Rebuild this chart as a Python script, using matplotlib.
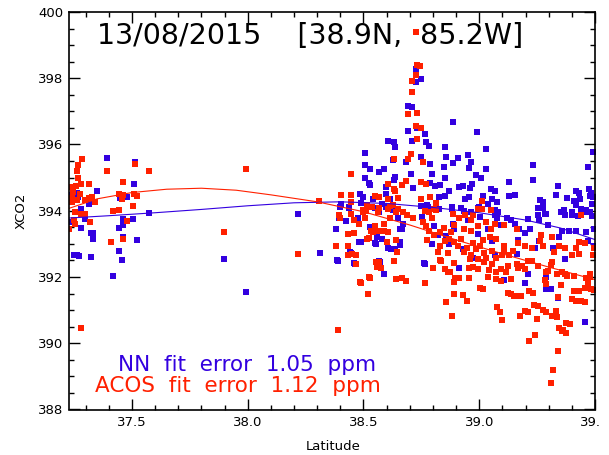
import matplotlib
matplotlib.use("Agg")
import matplotlib.pyplot as plt
from matplotlib.ticker import MultipleLocator, FormatStrFormatter
from matplotlib.transforms import Bbox, TransformedBbox, IdentityTransform

# Colores de las series
azul = "#3300E0"
rojo = "#FF2000"

# Puntos NN (azul)
blue_lat = [
    37.394, 37.515, 37.509, 37.348, 37.262, 37.240, 37.267, 37.316, 37.480, 37.449,
    37.279, 37.241, 37.296, 37.463, 37.506, 37.463, 37.443, 37.281, 37.322, 37.331,
    37.333, 37.463, 37.523, 37.446, 37.264, 37.270, 37.322, 37.457, 37.420, 37.575,
    37.898, 37.994, 37.235, 37.250, 38.219, 38.310, 38.727, 38.747, 38.727, 38.692,
    38.709, 38.887, 38.692, 38.730, 38.990, 38.765, 38.604, 38.631, 38.709, 38.768,
    38.637, 38.785, 38.850, 39.031, 38.505, 38.747, 38.858, 38.908, 38.952, 38.628,
    38.683, 38.788, 38.885, 38.966, 38.505, 38.526, 38.566, 38.587, 38.847, 38.955,
    39.031, 39.232, 39.471, 38.637, 38.631, 38.505, 38.704, 38.794, 38.850, 38.987,
    39.007, 39.130, 39.232, 38.528, 38.596, 38.715, 38.788, 38.809, 38.832, 38.870,
    38.914, 38.931, 38.958, 38.969, 39.051, 39.068, 39.340, 39.474, 39.490, 38.485,
    38.496, 38.543, 38.599, 38.613, 38.826, 38.850, 38.937, 38.955, 39.016, 39.054,
    39.130, 39.156, 39.261, 39.276, 39.331, 39.381, 39.433, 39.480, 38.403, 38.438,
    38.488, 38.578, 38.747, 38.776, 38.884, 38.934, 39.001, 39.039, 39.077, 39.416,
    39.439, 39.489, 39.463, 39.401, 39.252, 39.284, 39.372, 39.066, 39.493, 39.420,
    39.483, 39.437, 39.410, 38.380, 38.391, 38.394, 38.426, 38.447, 38.464, 38.476,
    38.488, 38.528, 38.552, 38.560, 38.569, 38.572, 38.590, 38.607, 38.619, 38.637,
    38.648, 38.657, 38.666, 38.669, 38.753, 38.765, 38.797, 38.803, 38.820, 38.858,
    38.870, 38.882, 38.885, 38.890, 38.914, 38.928, 38.952, 38.972, 38.993, 39.004,
    39.039, 39.054, 39.068, 39.077, 39.109, 39.138, 39.118, 39.138, 39.153, 39.168,
    39.173, 39.197, 39.197, 39.209, 39.220, 39.241, 39.252, 39.258, 39.276, 39.287,
    39.287, 39.290, 39.296, 39.311, 39.319, 39.340, 39.343, 39.352, 39.357, 39.366,
    39.372, 39.387, 39.401, 39.416, 39.427, 39.439, 39.457, 39.463, 39.471, 39.477,
    39.489, 39.495, 39.497, 39.460, 39.162, 39.095, 39.212, 39.258, 39.080, 39.066,
    38.963, 38.993, 38.920, 38.826, 38.780, 38.438, 38.400, 38.517, 38.549, 38.596,
    38.628, 38.387, 38.459, 38.569, 38.482, 38.442, 38.549, 38.582, 38.659, 38.658,
    38.763, 38.523,
]
blue_xco2 = [
    395.59, 395.47, 394.80, 394.59, 394.53, 394.48, 394.41, 394.21, 394.41, 394.38,
    394.06, 393.67, 393.76, 393.76, 393.74, 393.56, 393.47, 393.47, 393.32, 393.32,
    393.14, 393.20, 393.11, 392.78, 392.66, 392.63, 392.60, 392.51, 392.02, 393.93,
    392.54, 391.54, 394.33, 392.67, 393.90, 392.72, 398.29, 397.98, 397.88, 397.16,
    397.12, 396.67, 396.42, 396.49, 396.37, 396.33, 396.12, 396.08, 396.10, 396.09,
    395.92, 395.96, 395.93, 395.87, 395.75, 395.61, 395.63, 395.60, 395.69, 395.54,
    395.47, 395.41, 395.44, 395.48, 395.38, 395.26, 395.16, 395.26, 395.32, 395.29,
    395.27, 395.38, 395.32, 395.02, 394.92, 394.98, 395.11, 395.11, 394.98, 395.08,
    394.98, 394.86, 394.92, 394.77, 394.71, 394.69, 394.85, 394.75, 394.77, 394.59,
    394.71, 394.75, 394.69, 394.81, 394.65, 394.59, 394.75, 394.65, 394.43, 394.52,
    394.43, 394.36, 394.50, 394.34, 394.43, 394.46, 394.34, 394.43, 394.46, 394.36,
    394.46, 394.49, 394.31, 394.25, 394.49, 394.38, 394.53, 394.46, 394.19, 394.11,
    394.24, 394.21, 394.14, 394.18, 394.04, 393.98, 394.11, 394.21, 394.26, 394.16,
    394.06, 394.19, 393.95, 393.87, 393.87, 393.90, 393.87, 393.88, 395.77, 394.59,
    394.53, 394.35, 394.30, 393.46, 392.48, 393.77, 393.69, 392.73, 392.38, 393.77,
    393.06, 393.50, 393.01, 393.20, 393.97, 392.46, 392.10, 392.87, 392.85, 392.85,
    393.79, 392.97, 393.46, 393.61, 393.81, 392.38, 393.00, 393.53, 393.26, 393.24,
    393.01, 394.10, 393.61, 393.44, 392.28, 392.85, 393.73, 392.57, 393.30, 393.81,
    393.44, 393.08, 392.65, 393.79, 391.91, 391.50, 393.77, 393.71, 393.61, 393.12,
    393.44, 393.32, 391.81, 392.08, 393.44, 392.87, 394.08, 393.08, 394.08, 393.89,
    391.65, 392.01, 393.57, 391.63, 392.89, 391.36, 393.20, 393.97, 393.38, 394.01,
    392.55, 393.38, 393.97, 393.38, 393.85, 393.97, 390.63, 393.36, 393.08, 393.97,
    393.85, 392.95, 393.46, 394.03, 392.69, 393.57, 393.75, 393.73, 393.97, 394.01,
    393.97, 394.08, 394.08, 394.06, 394.10, 394.08, 394.10, 394.10, 394.08, 394.12,
    394.01, 392.51, 392.42, 392.47, 393.05, 392.76, 393.02, 393.14, 393.06, 393.44,
    392.42, 394.83,
]

# Puntos ACOS (rojo)
red_lat = [
    37.286, 37.268, 37.264, 37.268, 37.394, 37.575, 37.515, 37.463, 37.281, 37.259,
    37.316, 37.241, 37.244, 37.276, 37.328, 37.316, 37.296, 37.339, 37.443, 37.463,
    37.457, 37.509, 37.523, 37.239, 37.241, 37.264, 37.506, 37.420, 37.446, 37.255,
    37.281, 37.299, 37.248, 37.319, 37.255, 37.230, 37.480, 37.408, 37.463, 37.898,
    37.994, 37.281, 38.307, 38.219, 38.727, 38.733, 38.745, 38.727, 38.709, 38.709,
    38.692, 38.733, 38.727, 38.747, 38.730, 38.704, 38.692, 38.631, 38.759, 38.444,
    38.747, 38.768, 38.604, 38.666, 38.631, 38.683, 38.637, 38.403, 38.447, 38.549,
    38.569, 38.648, 38.607, 38.750, 38.788, 38.444, 38.517, 38.537, 38.613, 38.628,
    38.651, 38.669, 38.812, 39.010, 38.564, 38.394, 38.444, 38.496, 38.765, 38.785,
    38.806, 38.972, 39.439, 39.013, 38.391, 38.397, 38.460, 38.482, 38.505, 38.511,
    38.517, 38.531, 38.549, 38.569, 38.587, 38.607, 38.616, 38.642, 38.715, 38.768,
    38.774, 38.794, 38.812, 38.806, 38.832, 38.852, 38.855, 38.873, 38.890, 38.896,
    38.914, 38.928, 38.946, 38.955, 38.963, 38.975, 38.993, 39.016, 39.039, 39.077,
    39.089, 39.098, 39.074, 39.095, 39.138, 39.162, 39.176, 39.212, 39.217, 39.241,
    39.252, 39.290, 39.331, 39.334, 39.340, 39.319, 39.311, 39.363, 39.375, 39.393,
    39.419, 39.457, 39.410, 39.430, 39.497, 39.468, 39.480, 39.460, 39.372, 39.334,
    39.282, 39.290, 39.232, 39.150, 39.138, 39.115, 39.095, 39.054, 39.031, 38.996,
    38.955, 38.934, 38.908, 38.893, 38.867, 38.820, 38.832, 38.852, 38.876, 38.890,
    38.914, 38.885, 38.934, 38.963, 38.987, 39.004, 39.022, 39.057, 39.074, 39.100,
    39.124, 39.144, 39.165, 39.197, 39.212, 39.255, 39.276, 39.290, 39.314, 39.337,
    39.357, 39.378, 39.401, 39.416, 39.433, 39.457, 39.477, 39.492, 39.495, 39.430,
    39.372, 39.322, 39.226, 39.197, 39.168, 39.109, 39.074, 39.045, 39.016, 38.993,
    39.031, 39.051, 39.066, 38.963, 38.937, 38.993, 39.051, 39.109, 39.162, 39.264,
    39.267, 39.314, 39.343, 38.642, 38.666, 38.683, 38.765, 38.800, 38.835, 38.491,
    38.526, 38.520, 38.569, 38.552, 38.432, 38.467, 38.382, 38.432, 38.631, 38.575,
    38.890, 39.249, 38.496, 38.566, 38.607, 38.686, 38.759, 38.782, 38.832, 38.847,
    38.870, 38.890, 38.920, 38.949, 38.958, 38.972, 39.022, 39.042, 39.074, 39.109,
    39.127, 39.168, 39.185, 39.226, 39.296, 39.308, 39.352, 39.410, 38.884, 39.005,
    39.199, 39.238, 39.277, 39.316, 39.346, 39.359, 39.376, 39.339, 39.402, 39.441,
    39.458, 39.484, 39.126, 39.182, 39.217, 38.487, 38.523, 38.867, 38.452, 38.468,
    38.560, 38.646, 38.603, 38.642, 38.523, 38.431, 38.460, 38.540, 38.590,
]
red_xco2 = [
    395.56, 395.38, 395.20, 394.98, 395.20, 395.20, 395.42, 394.86, 394.80, 394.76,
    394.80, 394.71, 394.56, 394.51, 394.43, 394.38, 394.31, 394.27, 394.51, 394.47,
    394.35, 394.51, 394.45, 394.38, 394.25, 394.31, 394.14, 393.99, 394.02, 393.95,
    393.90, 393.90, 393.73, 393.66, 393.60, 393.44, 393.69, 393.05, 393.14, 393.35,
    395.26, 390.45, 394.30, 392.69, 399.41, 398.41, 398.36, 398.09, 397.91, 397.59,
    396.91, 396.95, 396.55, 396.49, 396.16, 395.72, 395.55, 395.57, 395.48, 395.11,
    394.86, 394.80, 394.80, 394.77, 394.67, 394.90, 394.61, 394.49, 394.49, 394.46,
    394.43, 394.38, 394.36, 394.35, 394.40, 394.27, 394.16, 394.11, 394.14, 394.16,
    394.06, 393.97, 394.23, 394.28, 393.95, 393.87, 393.90, 393.95, 394.00, 393.95,
    394.06, 393.87, 393.87, 394.06, 390.40, 393.77, 393.73, 393.59, 393.77, 393.99,
    393.16, 393.38, 393.54, 393.38, 393.59, 393.36, 393.77, 393.97, 393.77, 393.54,
    393.11, 393.79, 394.01, 393.28, 392.95, 392.24, 391.26, 392.14, 391.85, 391.97,
    391.97, 391.47, 391.28, 391.97, 392.65, 392.29, 392.55, 391.63, 391.99, 391.10,
    390.95, 390.69, 392.14, 391.87, 391.48, 391.42, 390.81, 390.93, 390.08, 390.26,
    391.12, 390.95, 390.97, 390.79, 389.77, 389.18, 388.81, 390.40, 390.30, 390.57,
    391.28, 391.24, 391.57, 391.57, 391.61, 391.83, 391.99, 391.97, 392.08, 392.08,
    391.91, 391.79, 391.52, 391.42, 391.93, 392.14, 392.24, 392.39, 392.57, 392.24,
    392.28, 392.75, 392.93, 392.42, 392.73, 392.75, 392.52, 393.08, 393.36, 393.57,
    393.77, 393.91, 393.44, 393.40, 392.85, 392.95, 392.71, 392.79, 392.57, 392.67,
    392.34, 392.77, 392.38, 392.24, 392.48, 392.34, 392.95, 392.14, 392.44, 392.10,
    392.14, 392.03, 392.65, 392.89, 392.69, 393.03, 392.08, 392.65, 392.87, 393.06,
    392.87, 392.75, 392.87, 392.95, 393.03, 392.95, 393.16, 393.20, 393.12, 393.54,
    393.65, 393.46, 393.59, 393.73, 393.87, 394.04, 394.01, 393.57, 393.44, 393.08,
    393.28, 393.20, 392.95, 391.93, 391.97, 391.87, 391.83, 392.28, 392.48, 391.81,
    391.97, 391.50, 392.46, 392.46, 392.65, 392.65, 392.93, 392.95, 392.48, 392.28,
    391.48, 390.73, 394.01, 394.08, 394.04, 393.87, 393.67, 393.40, 393.36, 393.48,
    393.16, 393.06, 393.16, 392.87, 392.55, 393.04, 392.44, 392.22, 391.95, 392.79,
    392.67, 392.26, 392.32, 392.48, 392.18, 392.36, 391.77, 392.03, 390.82, 391.66,
    390.97, 391.15, 391.00, 390.82, 390.45, 390.36, 390.60, 391.39, 391.33, 391.27,
    391.66, 391.63, 391.51, 391.42, 391.57, 391.84, 391.99, 392.16, 392.70, 392.40,
    392.30, 392.76, 393.06, 393.13, 393.17, 393.29, 393.34, 393.37, 393.39,
]

# Curvas de ajuste
blue_fit_lat = [37.227, 37.4, 37.6, 37.8, 38.0, 38.2, 38.4, 38.6, 38.8, 39.0, 39.2, 39.35, 39.5]
blue_fit = [393.78, 393.85, 393.94, 394.04, 394.15, 394.24, 394.27, 394.22, 394.10, 393.94, 393.72, 393.48, 393.13]
red_fit_lat = [37.227, 37.35, 37.5, 37.65, 37.8, 37.95, 38.1, 38.3, 38.5, 38.7, 38.9, 39.1, 39.3, 39.5]
red_fit = [394.07, 394.36, 394.55, 394.65, 394.68, 394.62, 394.48, 394.27, 393.97, 393.57, 393.12, 392.70, 392.30, 391.92]

x_ticks = [37.5, 38.0, 38.5, 39.0, 39.5]
titulo = "13/08/2015    [38.9N,  85.2W]"
texto_nn = "NN  fit  error  1.05  ppm"
texto_acos = "ACOS  fit  error  1.12  ppm"

W, H = 609, 455
fig = plt.figure(figsize=(W / 100, H / 100), dpi=100)
ax = fig.add_axes([68.8 / W, 1 - 409.5 / H, (595 - 68.8) / W, (409.5 - 12) / H])

# Dibujar puntos
ax.plot(blue_lat, blue_xco2, "s", color=azul, markersize=4.3, markeredgewidth=0)
ax.plot(red_lat, red_xco2, "s", color=rojo, markersize=4.3, markeredgewidth=0)
# Dibujar ajustes
ax.plot(blue_fit_lat, blue_fit, color=azul, lw=0.8)
ax.plot(red_fit_lat, red_fit, color=rojo, lw=0.8)

ax.set_xlim(37.227, 39.50)
ax.set_ylim(388, 400)
ax.set_xticks(x_ticks)
ax.xaxis.set_major_formatter(FormatStrFormatter("%.1f"))
ax.xaxis.set_minor_locator(MultipleLocator(0.1))
ax.yaxis.set_major_locator(MultipleLocator(2))
ax.yaxis.set_minor_locator(MultipleLocator(0.5))
ax.tick_params(which="both", direction="in", top=True, right=True, width=1.0, labelsize=9.5)
ax.tick_params(which="major", length=7.9)
ax.tick_params(which="minor", length=3.6)
ax.tick_params(axis="y", pad=4)
ax.tick_params(axis="x", pad=5)
for s in ax.spines.values():
    s.set_linewidth(1.2)

# La etiqueta 39.5 queda cortada en el borde, como en el original
corte = TransformedBbox(Bbox([[0, 0], [600, H]]), IdentityTransform())
for lab in ax.get_xticklabels():
    lab.set_clip_box(corte)
    lab.set_clip_on(True)

fig.text(333 / W, 1 - 447 / H, "Latitude", ha="center", va="center", fontsize=9.5)
fig.text(21.5 / W, 1 - 211 / H, "XCO2", ha="center", va="center", rotation=90, fontsize=9.5)
fig.text(97 / W, 1 - 44 / H, titulo, ha="left", va="baseline", fontsize=20.5)
fig.text(118 / W, 1 - 370.7 / H, texto_nn, ha="left", va="baseline", fontsize=15.5, color=azul)
fig.text(95 / W, 1 - 392 / H, texto_acos, ha="left", va="baseline", fontsize=15.5, color=rojo)

fig.savefig("out.png", dpi=100)
